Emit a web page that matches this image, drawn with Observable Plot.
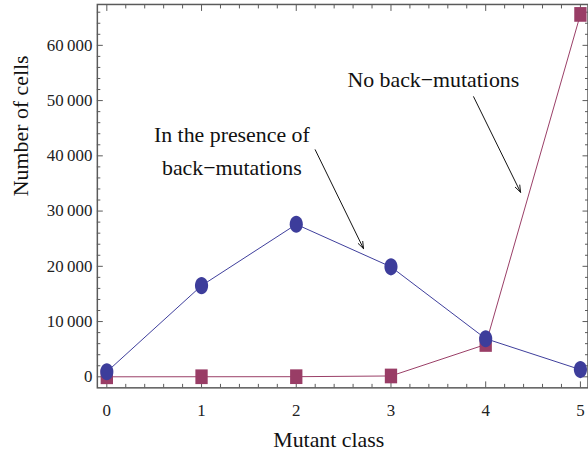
<!DOCTYPE html>
<html>
<head>
<meta charset="utf-8">
<script src="https://cdn.jsdelivr.net/npm/d3@7"></script>
<script src="https://cdn.jsdelivr.net/npm/@observablehq/plot@0.6"></script>
<style>
  html, body { margin: 0; padding: 0; background: #fff; overflow: hidden; }
  #chart svg { display: block; background: #fff; }
</style>
</head>
<body>
<div id="chart"></div>
<script>
// Mutant classes and the number of cells in each
const mutantClass = [0, 1, 2, 3, 4, 5];
const withBackMutations = [900, 16500, 27600, 19900, 6900, 1300];
const noBackMutations = [0, 10, 20, 150, 5850, 65600];

// Tick positions
const xMajorTicks = [0, 1, 2, 3, 4, 5];
const xMinorTicks = d3.range(0, 5.01, 0.2).filter(v => Math.abs(v - Math.round(v)) > 1e-6);
const yMajorTicks = [0, 10000, 20000, 30000, 40000, 50000, 60000];
const yMinorTicks = d3.range(2000, 66001, 2000).filter(v => v % 10000 !== 0);

// Annotations
const notes = [
  {x: 1.32, y: 41400, text: "In the presence of\nback\u2212mutations"},
  {x: 3.447, y: 54300, text: "No back\u2212mutations"}
];
const arrows = [
  {x1: 2.20, y1: 41100, x2: 2.71, y2: 23200},
  {x1: 3.872, y1: 50700, x2: 4.368, y2: 33400}
];

const blue = "#3d3d9b";
const plum = "#993d66";
const frameColor = "#5a5a5a";
const serif = "Liberation Serif";

const rows = mutantClass.map((c, i) => ({c, back: withBackMutations[i], noBack: noBackMutations[i]}));

// Marker shapes: upright ellipse and upright rectangle
const ellipse = {
  draw(context) {
    const rx = 6.6, ry = 8.6, k = 0.5523;
    context.moveTo(rx, 0);
    context.bezierCurveTo(rx, ry * k, rx * k, ry, 0, ry);
    context.bezierCurveTo(-rx * k, ry, -rx, ry * k, -rx, 0);
    context.bezierCurveTo(-rx, -ry * k, -rx * k, -ry, 0, -ry);
    context.bezierCurveTo(rx * k, -ry, rx, -ry * k, rx, 0);
    context.closePath();
  }
};
const rect = {
  draw(context) {
    const w = 6.2, h = 7.4;
    context.moveTo(-w, -h);
    context.lineTo(w, -h);
    context.lineTo(w, h);
    context.lineTo(-w, h);
    context.closePath();
  }
};

const fmt = d => d === 0 ? "0" : d3.format(",")(d).replace(/,/g, "\u2009");

const tickStyle = {stroke: frameColor, strokeWidth: 1, fill: "none", label: null};

const chart = Plot.plot({
  width: 592,
  height: 458,
  marginLeft: 97.5,
  marginRight: 0.5,
  marginTop: 4,
  marginBottom: 68,
  x: {domain: [-0.1, 5.08]},
  y: {domain: [-2000, 67400]},
  style: "font-family: 'Liberation Serif', serif; color: #111; background: #fff;",
  marks: [
    // inward ticks on all four sides
    Plot.axisX(xMajorTicks, {...tickStyle, anchor: "bottom", tickSize: 6, insetBottom: 6}),
    Plot.axisX(xMinorTicks, {...tickStyle, anchor: "bottom", tickSize: 3.5, insetBottom: 3.5}),
    Plot.axisX(xMajorTicks, {...tickStyle, anchor: "top", tickSize: 6, insetTop: 6}),
    Plot.axisX(xMinorTicks, {...tickStyle, anchor: "top", tickSize: 3.5, insetTop: 3.5}),
    Plot.axisY(yMajorTicks, {...tickStyle, anchor: "left", tickSize: 6, insetLeft: 6}),
    Plot.axisY(yMinorTicks, {...tickStyle, anchor: "left", tickSize: 3.5, insetLeft: 3.5}),
    Plot.axisY(yMajorTicks, {...tickStyle, anchor: "right", tickSize: 6, insetRight: 6}),
    Plot.axisY(yMinorTicks, {...tickStyle, anchor: "right", tickSize: 3.5, insetRight: 3.5}),
    // tick labels
    Plot.axisX(xMajorTicks, {anchor: "bottom", tickSize: 0, tickPadding: 16, fontSize: 17, fontFamily: serif, fill: "#222", label: null}),
    Plot.axisY(yMajorTicks, {anchor: "left", tickSize: 0, tickPadding: 5, fontSize: 17, fontFamily: serif, fill: "#222", tickFormat: fmt, label: null}),
    Plot.frame({stroke: frameColor, strokeWidth: 1.5}),
    // axis titles
    Plot.text(["Mutant class"], {frameAnchor: "bottom", dx: -14, dy: 53, lineAnchor: "middle", fontSize: 22, fontFamily: serif, fill: "#111"}),
    Plot.text(["Number of cells"], {frameAnchor: "left", dx: -77, rotate: -90, lineAnchor: "middle", fontSize: 22, fontFamily: serif, fill: "#111"}),
    // series
    Plot.line(rows, {x: "c", y: "noBack", stroke: plum, strokeWidth: 1}),
    Plot.line(rows, {x: "c", y: "back", stroke: blue, strokeWidth: 1}),
    Plot.dot(rows, {x: "c", y: "noBack", symbol: rect, fill: plum, stroke: null}),
    Plot.dot(rows, {x: "c", y: "back", symbol: ellipse, fill: blue, stroke: null}),
    // annotations
    Plot.text(notes, {x: "x", y: "y", text: "text", fontSize: 22, fontFamily: serif, lineHeight: 1.5, lineAnchor: "middle", fill: "#111"}),
    Plot.arrow(arrows, {x1: "x1", y1: "y1", x2: "x2", y2: "y2", stroke: "#111", strokeWidth: 1, headLength: 11, headAngle: 40})
  ]
});

document.getElementById("chart").append(chart);
</script>
</body>
</html>
